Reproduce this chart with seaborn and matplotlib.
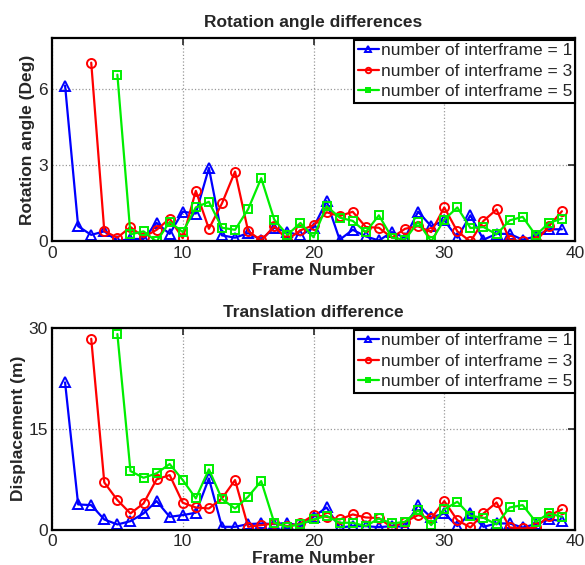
import numpy as np
import pandas as pd
import matplotlib
matplotlib.use("Agg")
import matplotlib.pyplot as plt
import seaborn as sns

# ---------------- data ----------------
frames_1 = list(range(1, 40))
frames_3 = list(range(3, 40))
frames_5 = list(range(5, 40))

rot_1 = [6.13, 0.60, 0.26, 0.40, 0.02, 0.10, 0.10, 0.73, 0.30, 1.17,
         1.10, 2.89, 0.24, 0.15, 0.33, 0.07, 0.54, 0.37, 0.24, 0.55,
         1.59, 0.07, 0.46, 0.20, 0.04, 0.37, 0.15, 1.17, 0.60, 0.83,
         0.15, 1.03, 0.07, 0.30, 0.30, 0.07, 0.20, 0.48, 0.48]
rot_3 = [7.03, 0.41, 0.15, 0.57, 0.17, 0.46, 0.90, 0.13, 1.99, 0.50,
         1.50, 2.75, 0.41, 0.04, 0.60, 0.07, 0.44, 0.64, 1.15, 1.00,
         1.17, 0.57, 0.54, 0.15, 0.50, 0.60, 0.37, 1.34, 0.40, 0.00,
         0.81, 1.26, 0.07, 0.00, 0.00, 0.60, 1.19]
rot_5 = [6.56, 0.28, 0.40, 0.00, 0.77, 0.37, 1.34, 1.56, 0.54, 0.46,
         1.27, 2.49, 0.86, 0.26, 0.73, 0.17, 1.39, 0.94, 0.81, 0.37,
         1.03, 0.15, 0.07, 0.77, 0.00, 0.86, 1.34, 0.53, 0.57, 0.28,
         0.83, 0.97, 0.24, 0.73, 0.90]

tr_1 = [21.9, 3.73, 3.63, 1.49, 0.75, 1.24, 2.39, 4.23, 1.89, 2.14,
        2.50, 7.60, 0.40, 0.40, 0.80, 0.90, 0.80, 1.00, 0.50, 1.90,
        3.28, 0.30, 0.50, 0.50, 0.35, 0.50, 0.40, 3.63, 1.79, 2.39,
        0.50, 2.39, 0.40, 0.90, 0.90, 0.30, 0.80, 1.49, 1.29]
tr_3 = [28.4, 7.00, 4.38, 2.39, 3.88, 7.46, 8.10, 3.98, 3.28, 3.13,
        4.63, 7.36, 0.40, 0.65, 0.90, 0.50, 0.90, 2.14, 1.89, 1.49,
        2.24, 1.79, 1.70, 0.30, 1.14, 2.14, 1.64, 4.23, 1.39, 0.30,
        2.39, 4.03, 0.30, 0.15, 0.30, 2.04, 2.99]
tr_5 = [29.1, 8.70, 7.70, 8.36, 9.75, 7.36, 4.63, 8.96, 4.53, 3.13,
        4.88, 7.21, 1.00, 0.40, 0.80, 1.49, 2.04, 1.00, 1.00, 0.50,
        1.64, 0.90, 1.14, 2.89, 0.65, 2.99, 4.13, 2.04, 1.74, 0.75,
        3.28, 3.63, 1.14, 2.39, 1.89]

labels = ["number of interframe = 1", "number of interframe = 3", "number of interframe = 5"]
colors = ["#0000ff", "#ff0000", "#00ee00"]
markers = ["^", "o", "s"]

# ---------------- figure ----------------
sns.set_style("white")
plt.rcParams["font.family"] = ["Liberation Sans", "DejaVu Sans"]

fig = plt.figure(figsize=(5.85, 5.65), dpi=100)
ax1 = fig.add_axes([52 / 585, 1 - 241.5 / 565, 523 / 585, 203.5 / 565])
ax2 = fig.add_axes([52 / 585, 1 - 529.5 / 565, 523 / 585, 201.5 / 565])


def draw(ax, series, ylim, yticks, title, ylabel):
    for (fr, vals), lab, c, m in zip(series, labels, colors, markers):
        df = pd.DataFrame({"frame": fr, "value": vals})
        sns.lineplot(data=df, x="frame", y="value", ax=ax, color=c, label=lab,
                     marker=m, markersize=6.5 if m != "s" else 5.5,
                     markerfacecolor="none", markeredgecolor=c,
                     markeredgewidth=1.4, linewidth=1.6)
    ax.set_xlim(0, 40)
    ax.set_ylim(*ylim)
    ax.set_xticks([0, 10, 20, 30, 40])
    ax.set_yticks(yticks)
    ax.grid(True, linestyle=":", color="#999999", linewidth=0.9)
    for s in ax.spines.values():
        s.set_visible(True)
        s.set_linewidth(1.6)
        s.set_color("black")
    ax.tick_params(direction="in", top=True, right=True, length=5,
                   width=1.2, labelsize=12.5, pad=3)
    ax.set_title(title, fontsize=12.5, fontweight="bold", pad=8)
    ax.set_xlabel("Frame Number", fontsize=12.5, fontweight="bold", labelpad=2)
    ax.set_ylabel(ylabel, fontsize=12.5, fontweight="bold", labelpad=2)
    leg = ax.legend(loc="upper right", bbox_to_anchor=(1.004, 1.0),
                    fontsize=12.5, handlelength=1.2, markerscale=0.6,
                    handletextpad=0.1, borderpad=0.2, labelspacing=0.3,
                    borderaxespad=0.1, fancybox=False, framealpha=1,
                    edgecolor="black")
    leg.get_frame().set_linewidth(1.5)


draw(ax1, [(frames_1, rot_1), (frames_3, rot_3), (frames_5, rot_5)],
     (0, 8), [0, 3, 6], "Rotation angle differences", "Rotation angle (Deg)")
draw(ax2, [(frames_1, tr_1), (frames_3, tr_3), (frames_5, tr_5)],
     (0, 30), [0, 15, 30], "Translation difference", "Displacement (m)")

fig.savefig("out.png", dpi=100)
